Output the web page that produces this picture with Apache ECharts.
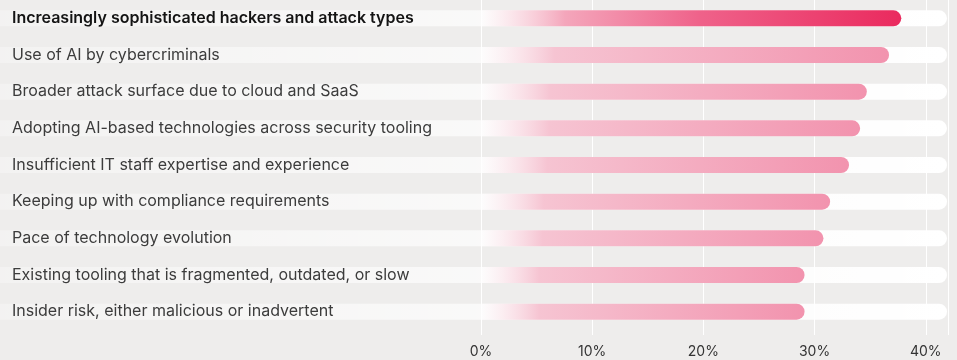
<!DOCTYPE html>
<html>
<head>
<meta charset="utf-8">
<script src="https://cdn.jsdelivr.net/npm/echarts@6/dist/echarts.min.js"></script>
<style>
html,body{margin:0;padding:0;background:#eeedec;}
#chart{width:957px;height:360px;}
</style>
</head>
<body>
<div id="chart"></div>
<script>
const categories = [
  "Increasingly sophisticated hackers and attack types",
  "Use of AI by cybercriminals",
  "Broader attack surface due to cloud and SaaS",
  "Adopting AI-based technologies across security tooling",
  "Insufficient IT staff expertise and experience",
  "Keeping up with compliance requirements",
  "Pace of technology evolution",
  "Existing tooling that is fragmented, outdated, or slow",
  "Insider risk, either malicious or inadvertent"
];
const values = [37.8, 36.7, 34.7, 34.1, 33.1, 31.4, 30.8, 29.1, 29.1];
const tickValues = [0, 10, 20, 30, 40];

const chart = echarts.init(document.getElementById('chart'), null, {renderer: 'canvas'});

const grad = (stops) => ({type: 'linear', x: 0, y: 0, x2: 1, y2: 0, colorStops: stops});
const topGrad = grad([
  {offset: 0, color: 'rgba(255,255,255,0.6)'},
  {offset: 0.2, color: '#f4a6bb'},
  {offset: 0.52, color: '#ef628a'},
  {offset: 1, color: '#ea2a5e'}
]);
const otherGrad = grad([
  {offset: 0, color: 'rgba(255,255,255,0.6)'},
  {offset: 0.18, color: '#f6c4d2'},
  {offset: 1, color: '#f293ae'}
]);

const option = {
  backgroundColor: '#eeedec',
  animation: false,
  textStyle: {fontFamily: 'Inter'},
  grid: [
    {left: 0, right: 10, top: 0, bottom: 30},
    {left: 481, right: 9, top: 0, bottom: 30}
  ],
  xAxis: [
    {gridIndex: 0, type: 'value', min: 0, max: 1, show: false},
    {
      gridIndex: 1, type: 'value', min: 0, max: 42, interval: 10,
      axisLine: {show: false},
      axisTick: {show: true, length: 5, lineStyle: {color: '#ffffff', width: 1}},
      splitLine: {show: true, lineStyle: {color: '#ffffff', width: 1}},
      axisLabel: {
        margin: 15, fontSize: 14, color: '#333333', fontFamily: 'Inter',
        formatter: v => tickValues.includes(v) ? v + '%' : ''
      }
    }
  ],
  yAxis: [
    {gridIndex: 0, type: 'category', data: categories, inverse: true, show: false},
    {
      gridIndex: 1, type: 'category', data: categories, inverse: true, z: 10,
      axisLine: {show: false}, axisTick: {show: false},
      axisLabel: {
        align: 'left', margin: 469, fontSize: 16, color: '#3c3c3c', fontFamily: 'Inter',
        formatter: (v, i) => i === 0 ? '{b|' + v + '}' : v,
        rich: {b: {fontSize: 16, fontWeight: 600, color: '#141414', fontFamily: 'Inter'}}
      }
    }
  ],
  series: [
    {
      type: 'bar', xAxisIndex: 0, yAxisIndex: 0, z: 1,
      data: categories.map(() => 1),
      barWidth: 16, silent: true,
      itemStyle: {
        borderRadius: [0, 8, 8, 0],
        color: grad([
          {offset: 0, color: 'rgba(255,255,255,0.3)'},
          {offset: 0.6, color: 'rgba(255,255,255,0.75)'},
          {offset: 1, color: 'rgba(255,255,255,1)'}
        ])
      }
    },
    {
      type: 'bar', xAxisIndex: 1, yAxisIndex: 1, z: 3,
      barWidth: 16,
      data: values.map((v, i) => ({value: v, itemStyle: {color: i === 0 ? topGrad : otherGrad}})),
      itemStyle: {borderRadius: [0, 8, 8, 0]}
    }
  ]
};
chart.setOption(option);
</script>
</body>
</html>
